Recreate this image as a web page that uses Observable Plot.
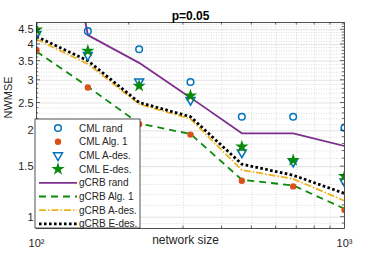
<!DOCTYPE html>
<html>
<head>
<meta charset="utf-8">
<script src="https://cdn.jsdelivr.net/npm/d3@7"></script>
<script src="https://cdn.jsdelivr.net/npm/@observablehq/plot@0.6"></script>
<style>
  html, body { margin: 0; padding: 0; background: white; }
  #chart svg { display: block; }
</style>
</head>
<body>
<div id="chart"></div>
<script>
// ---- data ----
const networkSize = [100, 146.8, 215.4, 316.2, 464.2, 681.3, 1000];
const cmlRand  = [6.0, 4.45, 3.85, 2.96, 2.24, 2.24, 2.05];
const cmlAlg1  = [3.82, 2.83, 2.11, 1.94, 1.34, 1.28, 1.06];
const cmlAdes  = [4.35, 3.67, 2.97, 2.56, 1.68, 1.56, 1.33];
const cmlEdes  = [4.50, 3.80, 2.87, 2.65, 1.76, 1.58, 1.39];
const gcrbRand = [40, 4.31, 3.45, 2.61, 1.96, 1.96, 1.77];
const gcrbAlg1 = [3.78, 2.85, 2.12, 1.95, 1.35, 1.29, 1.07];
const gcrbAdes = [4.17, 3.42, 2.48, 2.20, 1.46, 1.36, 1.14];
const gcrbEdes = [4.26, 3.51, 2.51, 2.24, 1.53, 1.40, 1.21];

const yTicks = [1, 1.5, 2, 2.5, 3, 3.5, 4, 4.5];
const yTickLabels = ["1", "1.5", "2", "2.5", "3", "3.5", "4", "4.5"];
const yMinor = [0.95, 1.1, 1.2, 1.3, 1.4, 1.6, 1.7, 1.8, 1.9, 2.1, 2.2, 2.3, 2.4, 2.6, 2.7, 2.8, 2.9,
                3.1, 3.2, 3.3, 3.4, 3.6, 3.7, 3.8, 3.9, 4.1, 4.2, 4.3, 4.4, 4.6, 4.7];
const xTicks = [100, 1000];
const xTickLabels = ["10²", "10³"];
const xMinor = [200, 300, 400, 500, 600, 700, 800, 900];

const titleText = "p=0.05";
const xLabel = "network size";
const yLabel = "NWMSE";

const C = {blue: "#0072BD", orange: "#D95319", yellow: "#EDB120", purple: "#7E2F8E", green: "#0a8a0a"};

const legendEntries = [
  {label: "CML rand",    kind: "dot", symbol: "circle",   fill: "none",   stroke: C.blue,   r: 3.3, rotate: 0},
  {label: "CML Alg. 1",  kind: "dot", symbol: "circle",   fill: C.orange, stroke: "none",   r: 3.2, rotate: 0},
  {label: "CML A-des.",  kind: "dot", symbol: "triangle", fill: "none",   stroke: C.blue,   r: 3.3, rotate: 180},
  {label: "CML E-des.",  kind: "dot", symbol: "star",     fill: C.green,  stroke: "none",   r: 4.2, rotate: 0},
  {label: "gCRB rand",   kind: "line", stroke: C.purple, width: 1.8, dash: null},
  {label: "gCRB Alg. 1", kind: "line", stroke: C.green,  width: 1.8, dash: "7,5"},
  {label: "gCRB A-des.", kind: "line", stroke: C.yellow, width: 1.8, dash: "7,2,1.5,2"},
  {label: "gCRB E-des.", kind: "line", stroke: "#000",   width: 2.8, dash: "2.6,2.4"}
];

const rows = (ys) => networkSize.map((n, i) => ({n, v: ys[i]}));

const dotMark = (ys, e) => Plot.dot(rows(ys), {
  x: "n", y: "v", symbol: e.symbol, r: e.r, fill: e.fill, stroke: e.stroke,
  strokeWidth: 1.5, rotate: e.rotate, clip: true
});
const lineMark = (ys, e) => Plot.line(rows(ys), {
  x: "n", y: "v", stroke: e.stroke, strokeWidth: e.width, strokeDasharray: e.dash,
  strokeLinecap: "butt", strokeLinejoin: "miter", clip: true
});

const chart = Plot.plot({
  width: 368, height: 257,
  marginLeft: 36, marginRight: 24, marginTop: 22, marginBottom: 29,
  style: {fontFamily: "'Liberation Sans', Arial, sans-serif", fontSize: "11px", color: "#262626", background: "white"},
  x: {type: "log", domain: [100, 1000]},
  y: {type: "log", domain: [0.913, 4.77]},
  marks: [
    Plot.gridY(yMinor, {stroke: "#c8c8c8", strokeOpacity: 1, strokeDasharray: "1,1.5", strokeWidth: 0.6}),
    Plot.gridX(xMinor, {stroke: "#c8c8c8", strokeOpacity: 1, strokeDasharray: "1,1.5", strokeWidth: 0.6}),
    Plot.gridY(yTicks, {stroke: "#dcdcdc", strokeOpacity: 1, strokeWidth: 0.8}),
    Plot.axisY(yTicks, {tickSize: 0, tickPadding: 3, tickFormat: (d) => yTickLabels[yTicks.indexOf(d)], fontSize: 11, label: null}),
    Plot.axisX(xTicks, {tickSize: 0, tickPadding: 11, tickFormat: (d) => xTickLabels[xTicks.indexOf(d)], fontSize: 11, label: null}),
    lineMark(gcrbRand, legendEntries[4]),
    lineMark(gcrbAlg1, legendEntries[5]),
    lineMark(gcrbAdes, legendEntries[6]),
    lineMark(gcrbEdes, legendEntries[7]),
    dotMark(cmlRand, legendEntries[0]),
    dotMark(cmlAlg1, legendEntries[1]),
    dotMark(cmlAdes, legendEntries[2]),
    dotMark(cmlEdes, legendEntries[3]),
    Plot.frame({stroke: "#262626", strokeWidth: 0.8}),
    Plot.text([titleText], {frameAnchor: "top", dy: -11, fontWeight: "bold", fontSize: 12, fill: "black"}),
    Plot.text([xLabel], {frameAnchor: "bottom", dy: 15, dx: -5, fontSize: 12}),
    Plot.text([yLabel], {frameAnchor: "left", rotate: -90, dx: -28, dy: -7, fontSize: 11})
  ]
});

// inward tick marks on all four sides, positioned with Plot's own scales
const sx = chart.scale("x"), sy = chart.scale("y");
const svg = d3.select(chart);
const x0 = sx.apply(100), x1 = sx.apply(1000);
const y0 = sy.apply(0.913), y1 = sy.apply(4.77);
const tg = svg.append("g").attr("stroke", "#262626").attr("stroke-width", 0.7);
const tick = (a, b, c, d) => tg.append("line").attr("x1", a).attr("y1", b).attr("x2", c).attr("y2", d);
yTicks.forEach(v => { const y = sy.apply(v); tick(x0, y, x0 + 4, y); tick(x1, y, x1 - 4, y); });
yMinor.forEach(v => { const y = sy.apply(v); if (y > y1 && y < y0) { tick(x0, y, x0 + 2.2, y); tick(x1, y, x1 - 2.2, y); } });
xMinor.forEach(v => { const x = sx.apply(v); tick(x, y0, x, y0 - 2.5); tick(x, y1, x, y1 + 2.5); });

// legend box (overlapping the lower-left corner of the axes)
const lg = svg.append("g").attr("transform", "translate(35,119)").attr("text-anchor", "start");
lg.append("rect").attr("x", 0).attr("y", 0).attr("width", 105).attr("height", 109)
  .attr("fill", "white").attr("stroke", "#262626").attr("stroke-width", 0.8);
const symbolOf = {circle: d3.symbolCircle, triangle: d3.symbolTriangle, star: d3.symbolStar};
legendEntries.forEach((e, i) => {
  const cy = 9 + i * 13.7;
  if (e.kind === "dot") {
    lg.append("path")
      .attr("d", d3.symbol(symbolOf[e.symbol], Math.PI * e.r * e.r)())
      .attr("transform", `translate(23,${cy}) rotate(${e.rotate})`)
      .attr("fill", e.fill).attr("stroke", e.stroke).attr("stroke-width", 1.5);
  } else {
    lg.append("line").attr("x1", 4).attr("x2", 42).attr("y1", cy).attr("y2", cy)
      .attr("stroke", e.stroke).attr("stroke-width", e.width)
      .attr("stroke-dasharray", e.dash);
  }
  lg.append("text").attr("x", 44).attr("y", cy).attr("dy", "0.35em")
    .attr("font-size", 10).attr("fill", "#262626").attr("text-anchor", "start").text(e.label);
});

document.getElementById("chart").appendChild(chart);
</script>
</body>
</html>
